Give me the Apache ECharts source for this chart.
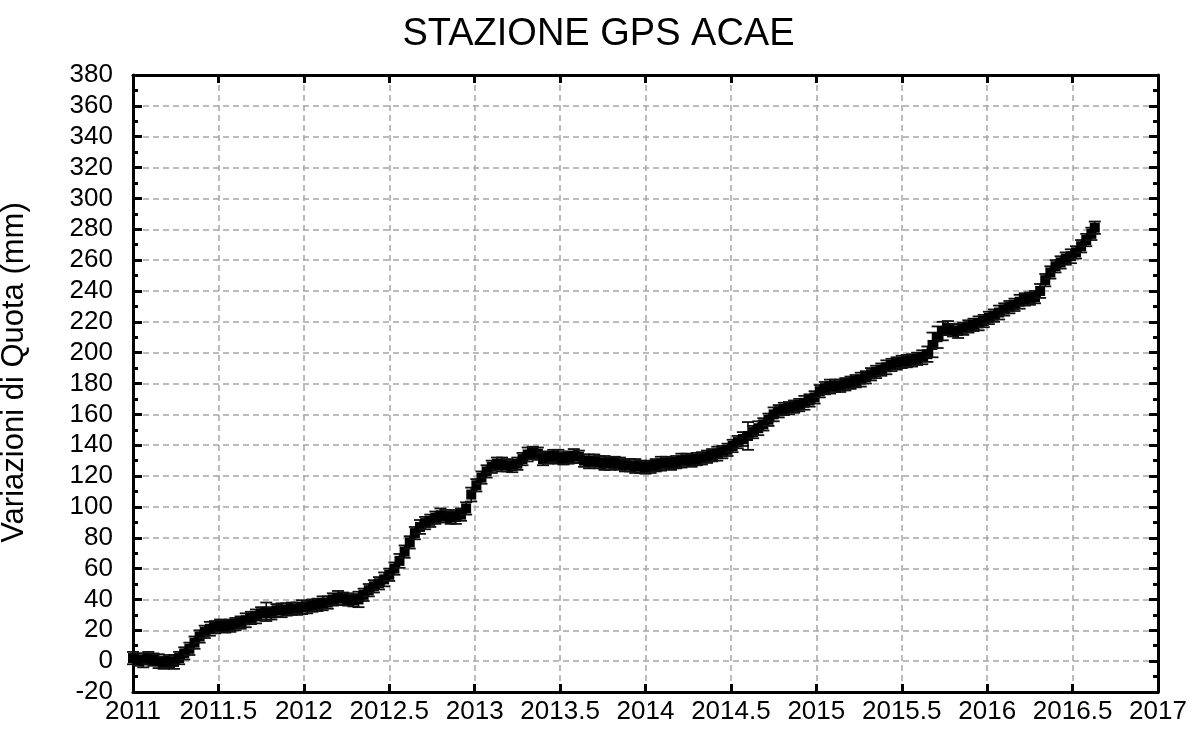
<!DOCTYPE html>
<html>
<head>
<meta charset="utf-8">
<script src="https://cdn.jsdelivr.net/npm/echarts@6/dist/echarts.min.js"></script>
<style>html,body{margin:0;padding:0;background:#fff}#c{width:1197px;height:733px}</style>
</head>
<body>
<div id="c"></div>
<script>
var titleText = 'STAZIONE GPS ACAE';
var yAxisName = 'Variazioni di Quota (mm)';
var xTicks = [2011, 2011.5, 2012, 2012.5, 2013, 2013.5, 2014, 2014.5, 2015, 2015.5, 2016, 2016.5, 2017];
var yTicks = [-20, 0, 20, 40, 60, 80, 100, 120, 140, 160, 180, 200, 220, 240, 260, 280, 300, 320, 340, 360, 380];

var years = [
 2011.00,2011.03,2011.06,2011.09,2011.12,2011.15,2011.18,2011.21,2011.24,2011.27,
 2011.30,2011.33,2011.36,2011.39,2011.42,2011.45,2011.48,2011.51,2011.54,2011.57,
 2011.60,2011.63,2011.66,2011.69,2011.72,2011.75,2011.78,2011.81,2011.84,2011.87,
 2011.90,2011.93,2011.96,2011.99,2012.02,2012.05,2012.08,2012.11,2012.14,2012.17,
 2012.20,2012.23,2012.26,2012.29,2012.32,2012.35,2012.38,2012.41,2012.44,2012.47,
 2012.50,2012.53,2012.56,2012.59,2012.62,2012.65,2012.68,2012.71,2012.74,2012.77,
 2012.80,2012.83,2012.86,2012.89,2012.92,2012.95,2012.98,2013.01,2013.04,2013.07,
 2013.10,2013.13,2013.16,2013.19,2013.22,2013.25,2013.28,2013.31,2013.34,2013.37,
 2013.40,2013.43,2013.46,2013.49,2013.52,2013.55,2013.58,2013.61,2013.64,2013.67,
 2013.70,2013.73,2013.76,2013.79,2013.82,2013.85,2013.88,2013.91,2013.94,2013.97,
 2014.00,2014.03,2014.06,2014.09,2014.12,2014.15,2014.18,2014.21,2014.24,2014.27,
 2014.30,2014.33,2014.36,2014.39,2014.42,2014.45,2014.48,2014.51,2014.54,2014.57,
 2014.60,2014.63,2014.66,2014.69,2014.72,2014.75,2014.78,2014.81,2014.84,2014.87,
 2014.90,2014.93,2014.96,2014.99,2015.02,2015.05,2015.08,2015.11,2015.14,2015.17,
 2015.20,2015.23,2015.26,2015.29,2015.32,2015.35,2015.38,2015.41,2015.44,2015.47,
 2015.50,2015.53,2015.56,2015.59,2015.62,2015.65,2015.68,2015.71,2015.74,2015.77,
 2015.80,2015.83,2015.86,2015.89,2015.92,2015.95,2015.98,2016.01,2016.04,2016.07,
 2016.10,2016.13,2016.16,2016.19,2016.22,2016.25,2016.28,2016.31,2016.34,2016.37,
 2016.40,2016.43,2016.46,2016.49,2016.52,2016.55,2016.58,2016.61,2016.63
];

var heights = [
 2,1,0.5,2,1,0,-1,0,-0.5,2,
 5,8,12,16,19,21,22,23,22.5,23,
 24,25,26.5,28,29,31,32,31,33,33,
 33.5,34,34,35,35,36,36.5,37.5,38,40,
 41,40.5,40,39.5,40,43,46,48.5,50.5,53,
 56,60,65,71,77,83,87,89.5,91,93,
 94.5,94,93,93.5,95,99,108,114,119,123,
 126,128,127.5,127,126.5,128,131,134,135,134.5,
 131,132,133,132.5,131.5,132,133,132.5,130,129.5,
 130,129,128.5,128,128.5,128,127,127,126.5,126,
 125.5,126,127,128,128.5,128,129,130,130.5,130,
 131,131.5,132.5,133.5,134.5,135.5,137,139.5,142,144,
 146,148.5,151,153.5,156.5,160,162,163.5,164,165,
 166,167.5,169,171,175,177,178,178.5,178.5,179.5,
 180.5,181.5,182.5,184,186,187.5,189,190.5,192,193,
 194,194.5,195,196,197,199,205,210,214,216,
 214.5,214,215.5,217,218,219,220.5,222.5,224,226,
 228,229.5,231,233,234.5,235,236,240,247,252,
 256,258.5,261,262.5,265,269,273,277,281
];

var errors = [
 4,4,4.5,4,4,4.5,4,4,4.5,4,
 4,4,4,4,4,4.5,4,4,4,4,
 4,4,4.5,4,4.5,4,6,4,4,4.5,
 4,4,4,4.5,4,4,4,4.5,4,4,
 4.5,4,4,4,5,4,4,4,4,4.5,
 4,4,4.5,4,4,4,4.5,4,4,4,
 4.5,4,4,4.5,4,4,4.5,4,4,4,
 4,4,4.5,4,4,4,4,4.5,4,4,
 4,4,4,4.5,4,4,4.5,4,4,4.5,
 4,4,4.5,4,4,4,4,4,4.5,4,
 4,4,4,4.5,4,4,4,4.5,4,4,
 4,4,4,4,4.5,4,4,4,4,4.5,
 9,4,4.5,4,4,4.5,4,4,4,4,
 4,4.5,4,4,4,4,4.5,4,4,4,
 4,4,4.5,4,4,4,4,4.5,4,4,
 4,4,4,4,4.5,5,8,7,6,4.5,
 4,4.5,4,4,4,4.5,4,4,4,4.5,
 4,4,4,4.5,4,4,4,4.5,4,4,
 4,4,4,4.5,4,4,4,4,4
];

var seriesData = years.map(function (t, i) { return [t, heights[i], errors[i]]; });

var chart = echarts.init(document.getElementById('c'), null, { renderer: 'canvas' });
var font = '"Liberation Sans", Arial, sans-serif';
var axisLineStyle = { show: true, onZero: false, lineStyle: { color: '#000', width: 3 } };
var gridLine = { show: true, lineStyle: { color: '#a6a6a6', width: 1.5, type: [6, 4] } };

chart.setOption({
  backgroundColor: '#fff',
  animation: false,
  title: {
    text: titleText, left: 'center', top: 11,
    textStyle: { fontFamily: font, fontSize: 38, fontWeight: 'normal', color: '#000' }
  },
  grid: { left: 133, right: 39, top: 75, bottom: 41, outerBoundsMode: 'none' },
  xAxis: [{
    type: 'value', min: xTicks[0], max: xTicks[xTicks.length - 1], interval: 0.5,
    axisLine: axisLineStyle,
    axisTick: { show: true, inside: true, length: 8, lineStyle: { color: '#000', width: 3 } },
    axisLabel: { fontFamily: font, fontSize: 26, color: '#000', margin: 7,
      formatter: function (v) { return String(Math.round(v * 10) / 10); } },
    splitLine: gridLine
  }, {
    type: 'value', position: 'top', min: xTicks[0], max: xTicks[xTicks.length - 1], interval: 0.5,
    axisLine: axisLineStyle,
    axisTick: { show: true, inside: true, length: 8, lineStyle: { color: '#000', width: 3 } },
    axisLabel: { show: false }, splitLine: { show: false }
  }],
  yAxis: [{
    type: 'value', min: yTicks[0], max: yTicks[yTicks.length - 1], interval: 20,
    name: yAxisName, nameLocation: 'middle', nameGap: 103, nameRotate: 90,
    nameTextStyle: { fontFamily: font, fontSize: 31, color: '#000', padding: [0, 0, 0, 22] },
    axisLine: axisLineStyle,
    axisTick: { show: true, inside: true, length: 9, lineStyle: { color: '#000', width: 3 } },
    minorTick: { show: true, splitNumber: 2, length: 5, lineStyle: { color: '#000', width: 3 } },
    axisLabel: { fontFamily: font, fontSize: 26, color: '#000', margin: 20 },
    splitLine: gridLine
  }, {
    type: 'value', position: 'right', min: yTicks[0], max: yTicks[yTicks.length - 1], interval: 20,
    axisLine: axisLineStyle,
    axisTick: { show: true, inside: true, length: 9, lineStyle: { color: '#000', width: 3 } },
    minorTick: { show: true, splitNumber: 2, length: 5, lineStyle: { color: '#000', width: 3 } },
    axisLabel: { show: false }, splitLine: { show: false }
  }],
  series: [{
    type: 'custom',
    xAxisIndex: 0, yAxisIndex: 0,
    data: seriesData,
    renderItem: function (params, api) {
      var x = api.value(0), y = api.value(1), e = api.value(2);
      var p = api.coord([x, y]);
      var hi = api.coord([x, y + e]);
      var lo = api.coord([x, y - e]);
      var hw = 6, s = 10;
      return {
        type: 'group',
        children: [
          { type: 'line', shape: { x1: p[0], y1: hi[1], x2: p[0], y2: lo[1] }, style: { stroke: '#000', lineWidth: 1.5 } },
          { type: 'line', shape: { x1: p[0] - hw, y1: hi[1], x2: p[0] + hw, y2: hi[1] }, style: { stroke: '#111', lineWidth: 1.8 } },
          { type: 'line', shape: { x1: p[0] - hw, y1: lo[1], x2: p[0] + hw, y2: lo[1] }, style: { stroke: '#111', lineWidth: 1.8 } },
          { type: 'rect', shape: { x: p[0] - s / 2, y: p[1] - s / 2, width: s, height: s }, style: { fill: '#000' } }
        ]
      };
    }
  }]
});
</script>
</body>
</html>
